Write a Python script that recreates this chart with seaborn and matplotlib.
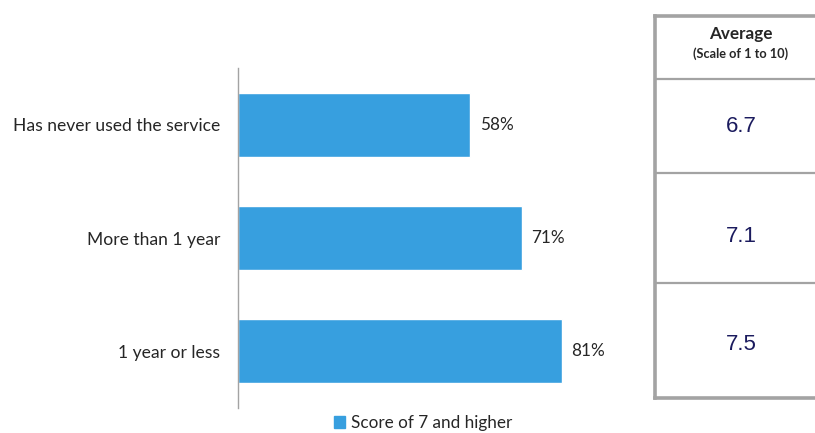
import matplotlib
matplotlib.use("Agg")
import matplotlib.pyplot as plt
import seaborn as sns
import pandas as pd

# Survey results by length of service use
categories = ["Has never used the service", "More than 1 year", "1 year or less"]
share_7_plus = [58, 71, 81]          # % scoring 7 and higher
averages = [6.7, 7.1, 7.5]           # mean score, scale of 1 to 10
series_name = "Score of 7 and higher"

BAR_COLOR = "#379FDF"
GRID_GREY = "#A3A3A3"
TEXT = "#262626"

sns.set_theme(style="white")
plt.rcParams["font.family"] = ["Lato", "DejaVu Sans"]

df = pd.DataFrame({"category": categories, "value": share_7_plus, "series": series_name})

W, H = 815, 433
fig = plt.figure(figsize=(W / 100, H / 100), dpi=100)

# Bar chart area
ax = fig.add_axes([238 / W, 1 - 408 / H, 400 / W, 340 / H])
sns.barplot(data=df, x="value", y="category", hue="series", orient="h",
            palette=[BAR_COLOR], saturation=1, width=0.566, ax=ax, legend=False)
ax.set_xlim(0, 100)
ax.set_ylim(2.5, -0.5)
ax.set_xlabel("")
ax.set_ylabel("")
ax.set_xticks([])
ax.tick_params(axis="y", length=0, pad=13, labelsize=12.6, labelcolor=TEXT)
for s in ["top", "right", "bottom"]:
    ax.spines[s].set_visible(False)
ax.spines["left"].set_color(GRID_GREY)
ax.spines["left"].set_linewidth(1.0)

for i, v in enumerate(share_7_plus):
    ax.text(v + 2.4, i, f"{v}%", va="center", ha="left", fontsize=12.3, color=TEXT)

# Legend below the bars
handle = plt.Rectangle((0, 0), 1, 1, color=BAR_COLOR)
fig.legend([handle], [series_name], loc="center", bbox_to_anchor=(423 / W, 1 - 423 / H),
           frameon=False, fontsize=12.3, handlelength=0.65, handleheight=0.65,
           handletextpad=0.35, borderaxespad=0, labelcolor=TEXT)

# Average-score table on the right
tab = fig.add_axes([0, 0, 1, 1])
tab.set_xlim(0, W)
tab.set_ylim(H, 0)
tab.axis("off")

left, top, bottom, right = 655, 16, 398, 830
row_edges = [79, 173, 283]
tab.plot([left, left], [top, bottom], color=GRID_GREY, lw=2.6, solid_capstyle="projecting")
tab.plot([left, right], [top, top], color=GRID_GREY, lw=2.6, solid_capstyle="projecting")
tab.plot([left, right], [bottom, bottom], color=GRID_GREY, lw=2.6, solid_capstyle="projecting")
for y in row_edges:
    tab.plot([left, right], [y, y], color=GRID_GREY, lw=1.6)

cx = 741
tab.text(cx, 34, "Average", ha="center", va="center", fontsize=12.3, fontweight="bold",
         color=TEXT)
tab.text(cx, 54, "(Scale of 1 to 10)", ha="center", va="center", fontsize=9.2,
         fontweight="bold", color=TEXT)

row_centers = [126, 236, 344]
for yc, v in zip(row_centers, averages):
    tab.text(cx, yc, f"{v:.1f}", ha="center", va="center", fontsize=16,
             color="#1B1B5E", family=["Liberation Sans", "DejaVu Sans"])

fig.savefig("out.png", dpi=100)
